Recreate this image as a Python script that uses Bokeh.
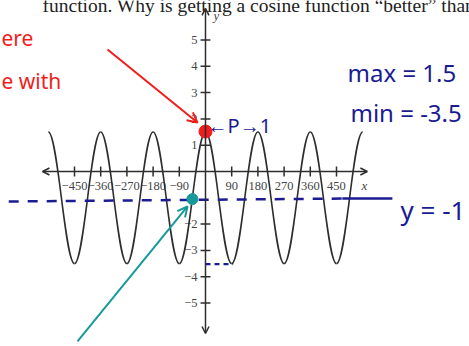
import math
from bokeh.plotting import figure
from bokeh.models import Range1d, Arrow, OpenHead
from bokeh.core.properties import value
from bokeh.embed import file_html
from bokeh.resources import INLINE

# ---- data ----
# extremes of the curve (degrees, value): max 1.5, min -3.5
extreme_x = [-540, -450, -360, -270, -180, -90, 0, 90, 180, 270, 360, 450, 540]
extreme_y = [1.5, -3.5, 1.5, -3.5, 1.5, -3.5, 1.5, -3.5, 1.5, -3.5, 1.5, -3.5, 1.5]

x_ticks = [-450, -360, -270, -180, -90, 90, 180, 270, 360, 450]
x_tick_labels = ["\u2212450", "\u2212360", "\u2212270", "\u2212180", "\u221290", "90", "180", "270", "360", "450"]
y_ticks = [5, 4, 3, 2, 1, -2, -3, -4, -5]
y_tick_labels = ["5", "4", "3", "2", "1", "\u22122", "\u22123", "\u22124", "\u22125"]

# text line cropped at the top of the picture
top_text = "function. Why is getting a cosine function \u201cbetter\u201d than"

# handwritten annotations (data coordinates)
max_point = (0, 1.52)
midline_point = (-45, -1.05)
midline_y = -1
min_y = -3.5

red_words = ["ere", "e with"]
red_word_x = [-701, -701]
red_word_y = [5.06, 3.46]

blue_words = ["max = 1.5", "min = -3.5"]
blue_word_x = [488, 498]
blue_word_y = [3.76, 2.24]

INK = "#2e2e2e"
RED = "#f21c1c"
BLUE = "#1b1b92"
TEAL = "#17999a"

p = figure(width=469, height=346, output_backend="svg", toolbar_location=None,
           x_range=Range1d(-704.2, 906.9), y_range=Range1d(-6.654, 6.502),
           min_border=0, outline_line_color=None)
p.axis.visible = False
p.grid.visible = False
p.background_fill_color = "white"

# ---- cropped heading line ----
p.text(x=[-560], y=[6.502], text=[top_text], y_offset=5,
       text_align="left", text_baseline="alphabetic", text_color="#222222",
       text_font=value("Liberation Serif"), text_font_size="19.5px")

# ---- hand drawn axes ----
p.add_layout(Arrow(start=OpenHead(size=7, line_color=INK, line_width=1.5),
                   end=OpenHead(size=7, line_color=INK, line_width=1.5),
                   x_start=-560, y_start=0, x_end=556, y_end=0,
                   line_color=INK, line_width=1.5))
p.add_layout(Arrow(start=OpenHead(size=7, line_color=INK, line_width=1.5),
                   end=OpenHead(size=7, line_color=INK, line_width=1.5),
                   x_start=0, y_start=-6.16, x_end=0, y_end=6.2,
                   line_color=INK, line_width=1.5))

p.segment(x0=x_ticks, y0=[-0.19] * len(x_ticks), x1=x_ticks, y1=[0.19] * len(x_ticks),
          line_color=INK, line_width=1.5)
p.segment(x0=[-17] * len(y_ticks), y0=y_ticks, x1=[17] * len(y_ticks), y1=y_ticks,
          line_color=INK, line_width=1.5)

p.text(x=x_ticks, y=[0] * len(x_ticks), text=x_tick_labels, y_offset=14,
       text_align="center", text_baseline="middle", text_color="#454545",
       text_font=value("Liberation Serif"), text_font_size="12.5px")
p.text(x=[0] * len(y_ticks), y=y_ticks, text=y_tick_labels, x_offset=-8,
       text_align="right", text_baseline="middle", text_color="#454545",
       text_font=value("Liberation Serif"), text_font_size="12.5px")
p.text(x=[0], y=[0], text=["y"], x_offset=11, y_offset=-156,
       text_align="center", text_baseline="middle", text_color="#454545",
       text_font=value("Liberation Serif"), text_font_size="13px", text_font_style="italic")
p.text(x=[556], y=[0], text=["x"], x_offset=-3, y_offset=14,
       text_align="center", text_baseline="middle", text_color="#454545",
       text_font=value("Liberation Serif"), text_font_size="13px", text_font_style="italic")

# ---- the curve: smooth half-waves between the extremes ----
k = (math.pi - 2) / math.pi
x0, y0, x1, y1, cx0, cy0, cx1, cy1 = [], [], [], [], [], [], [], []
for i in range(len(extreme_x) - 1):
    a, b = extreme_x[i], extreme_x[i + 1]
    d = b - a
    x0.append(a); y0.append(extreme_y[i]); x1.append(b); y1.append(extreme_y[i + 1])
    cx0.append(a + k * d); cy0.append(extreme_y[i])
    cx1.append(b - k * d); cy1.append(extreme_y[i + 1])
p.bezier(x0=x0, y0=y0, x1=x1, y1=y1, cx0=cx0, cy0=cy0, cx1=cx1, cy1=cy1,
         line_color=INK, line_width=1.6)

# ---- annotations ----
p.line(x=[-676, 470], y=[midline_y - 0.14, midline_y - 0.03], line_color=BLUE,
       line_width=2.5, line_dash="10 9")
p.line(x=[470, 642], y=[midline_y - 0.03, midline_y - 0.03], line_color=BLUE, line_width=2.5)
p.line(x=[0, 95], y=[min_y - 0.02, min_y - 0.02], line_color=BLUE, line_width=2.2, line_dash="5 4")

p.add_layout(Arrow(end=OpenHead(size=10, line_color=RED, line_width=2),
                   x_start=-336.6, y_start=4.64, x_end=-27.5, y_end=1.86,
                   line_color=RED, line_width=2))
p.add_layout(Arrow(end=OpenHead(size=10, line_color=TEAL, line_width=2),
                   x_start=-439.7, y_start=-6.46, x_end=-61.8, y_end=-1.33,
                   line_color=TEAL, line_width=2))

p.scatter(x=[max_point[0]], y=[max_point[1]], size=13, color=RED)
p.scatter(x=[midline_point[0]], y=[midline_point[1]], size=11, color=TEAL)

p.text(x=red_word_x, y=red_word_y, text=red_words, text_align="left",
       text_baseline="alphabetic", text_color=RED, text_font=value("Noto Sans"),
       text_font_size="21px")
p.text(x=blue_word_x, y=blue_word_y, text=blue_words, text_align="left",
       text_baseline="alphabetic", text_color=BLUE, text_font=value("Noto Sans"),
       text_font_size="24px")
p.text(x=[7], y=[1.75], text=["\u2190P\u21921"], text_align="left",
       text_baseline="middle", text_color=BLUE, text_font=value("Noto Sans"),
       text_font_size="20px")
p.text(x=[670], y=[-1.48], text=["y = -1"], text_align="left",
       text_baseline="alphabetic", text_color=BLUE, text_font=value("Noto Sans"),
       text_font_size="26px")

open("out.html", "w").write(file_html(p, INLINE))
